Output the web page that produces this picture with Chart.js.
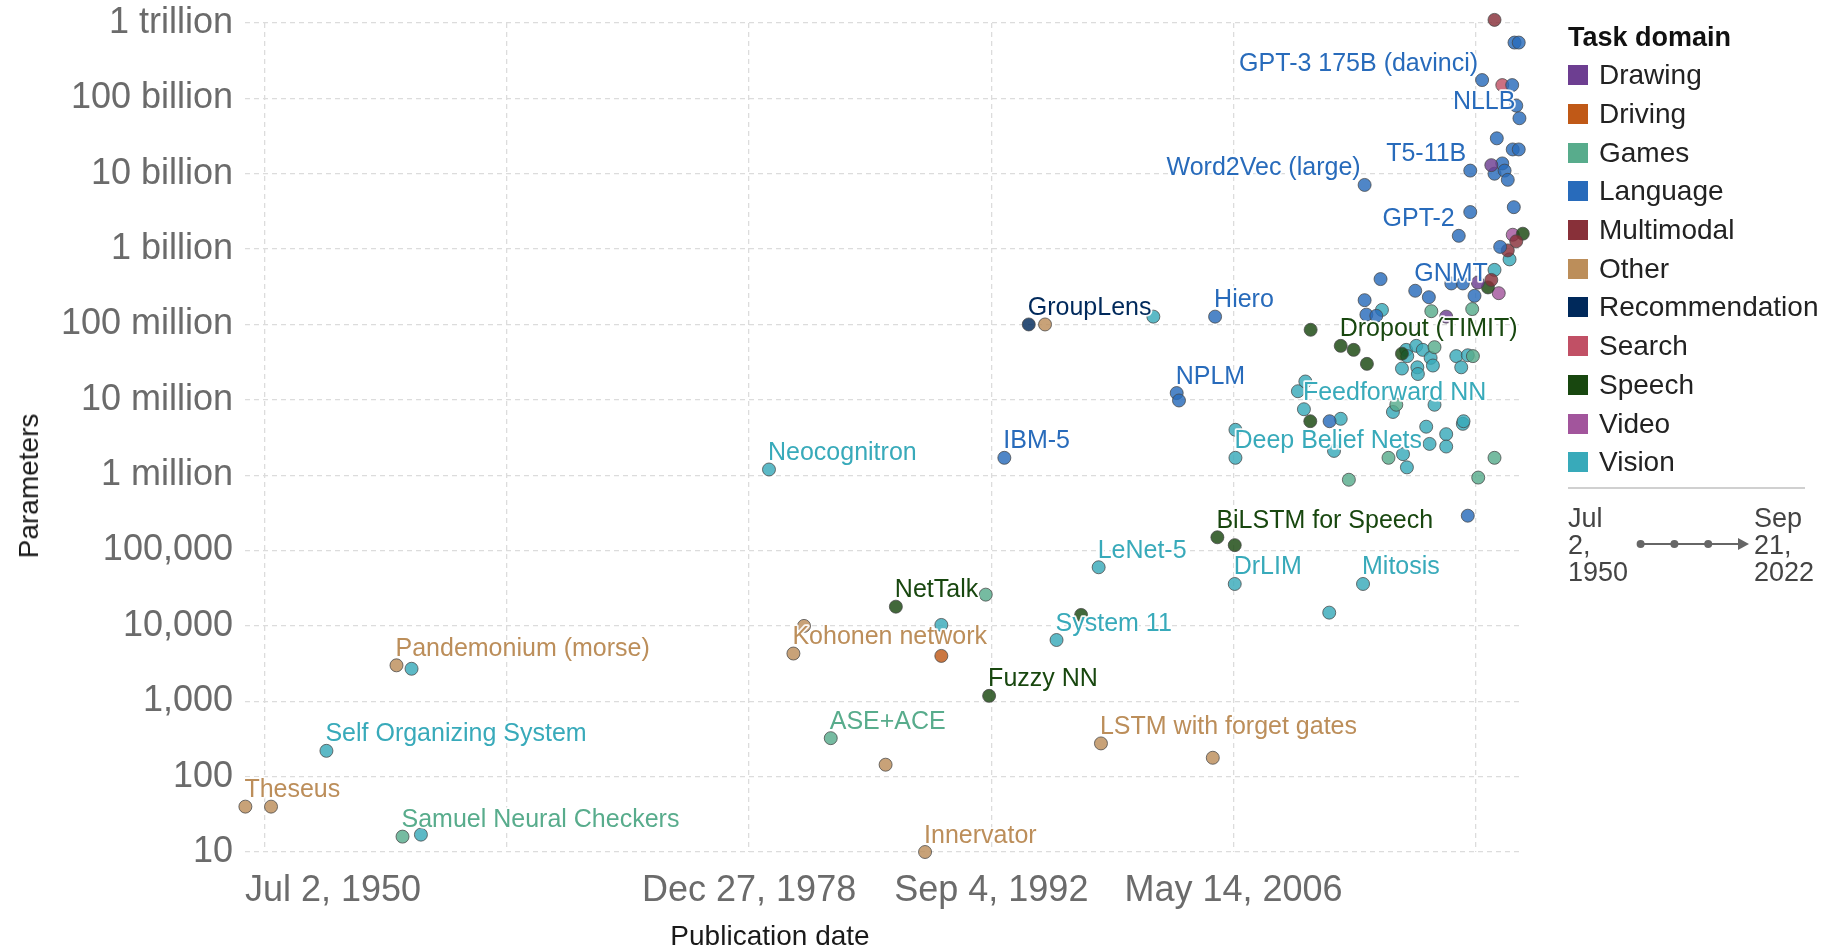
<!DOCTYPE html>
<html>
<head>
<meta charset="utf-8">
<title>Parameters in notable AI systems</title>
<script src="https://cdn.jsdelivr.net/npm/chart.js@4.4.1/dist/chart.umd.min.js"></script>
<style>
  html, body { margin: 0; padding: 0; background: #fff; }
  body { width: 1827px; height: 948px; position: relative; overflow: hidden;
         font-family: 'Liberation Sans', Arial, Helvetica, sans-serif; }
  #c { position: absolute; left: 0; top: 0; }
  .axis-title { position: absolute; font-size: 28px; color: #1a1a1a; white-space: nowrap; }
  #ytitle { left: 29px; top: 486px; transform: translate(-50%, -50%) rotate(-90deg); }
  #xtitle { left: 770px; top: 936px; transform: translate(-50%, -50%); }
  #legend { position: absolute; left: 1568px; top: 18px; }
  #legend .title { font-weight: bold; font-size: 27px; color: #111; height: 38px; line-height: 38px; }
  #legend .item { height: 38.7px; display: flex; align-items: center; font-size: 28px; color: #222; }
  #legend .sw { width: 20px; height: 20px; margin-right: 11px; flex: none; }
  #sep { position: absolute; left: 1568px; top: 487px; width: 237px; height: 2px; background: #d0d0d0; }
  .tl { position: absolute; top: 505px; font-size: 27px; line-height: 26.8px; color: #444; }
  #tl-start { left: 1568px; }
  #tl-end { left: 1754px; }
  #tl-arrow { position: absolute; left: 1630px; top: 530px; }
</style>
</head>
<body>
<canvas id="c" width="1827" height="948"></canvas>
<div id="ytitle" class="axis-title">Parameters</div>
<div id="xtitle" class="axis-title">Publication date</div>
<div id="legend"><div class="title">Task domain</div></div>
<div id="sep"></div>
<div id="tl-start" class="tl">Jul<br>2,<br>1950</div>
<div id="tl-end" class="tl">Sep<br>21,<br>2022</div>
<svg id="tl-arrow" width="130" height="30" viewBox="0 0 130 30">
  <line x1="10" y1="14" x2="112" y2="14" stroke="#666" stroke-width="2"/>
  <circle cx="10.6" cy="14" r="4" fill="#666"/>
  <circle cx="44.4" cy="14" r="4" fill="#666"/>
  <circle cx="78.2" cy="14" r="4" fill="#666"/>
  <polygon points="108,8 119,14 108,20" fill="#666"/>
</svg>

<script>
// Task domains and their colours
const domains = ['Drawing', 'Driving', 'Games', 'Language', 'Multimodal', 'Other',
                 'Recommendation', 'Search', 'Speech', 'Video', 'Vision'];
const domainColors = ['#6D3E91', '#C05917', '#58AC8C', '#286BBB', '#883039', '#BC8E5A',
                      '#00295B', '#C15065', '#18470F', '#A2559C', '#38AABA'];

// Systems per domain: [publication year (decimal), parameters, name shown on chart]
const drawing = [
  [2018.38, 1.27e8], [2020.17, 3.6e8], [2020.93, 1.3e10]
];
const driving = [
  [1989.85, 4000]
];
const games = [
  [1959.40, 16, 'Samuel Neural Checkers'],
  [1983.60, 324, 'ASE+ACE'],
  [1992.36, 2.6e4], [2012.88, 8.7e5], [2015.12, 1.7e6], [2015.56, 8.6e6],
  [2017.54, 1.5e8], [2017.72, 5.0e7], [2019.85, 1.6e8], [2019.89, 3.8e7],
  [2020.19, 9.3e5], [2021.11, 1.7e6]
];
const language = [
  [1993.41, 1.7e6, 'IBM-5'],
  [2003.15, 1.23e7, 'NPLM'],
  [2003.28, 9.8e6],
  [2005.32, 1.27e8, 'Hiero'],
  [2011.79, 5.2e6],
  [2013.77, 7.1e9, 'Word2Vec (large)'],
  [2013.77, 2.1e8], [2013.87, 1.35e8], [2014.43, 1.3e8], [2014.67, 4.0e8],
  [2016.63, 2.8e8, 'GNMT'],
  [2017.40, 2.3e8], [2018.67, 3.5e8],
  [2019.09, 1.5e9, 'GPT-2'],
  [2019.32, 3.5e8], [2019.60, 2.9e5], [2019.74, 3.1e9],
  [2019.74, 1.1e10, 'T5-11B'],
  [2019.98, 2.4e8],
  [2020.41, 1.75e11, 'GPT-3 175B (davinci)'],
  [2021.11, 1.0e10], [2021.24, 2.95e10], [2021.43, 1.07e9], [2021.55, 1.37e10],
  [2021.68, 1.1e10], [2021.86, 8.3e9], [2022.11, 1.5e11], [2022.14, 2.1e10],
  [2022.20, 3.6e9], [2022.24, 5.5e11], [2022.34, 8.0e10], [2022.48, 2.1e10],
  [2022.48, 5.5e11],
  [2022.52, 5.45e10, 'NLLB']
];
const multimodal = [
  [2020.93, 3.9e8], [2021.11, 1.1e12], [2021.86, 9.6e8], [2022.34, 1.27e9]
];
const other = [
  [1950.52, 40, 'Theseus'],
  [1951.97, 40],
  [1959.06, 3000, 'Pandemonium (morse)'],
  [1981.49, 4300, 'Kohonen network'],
  [1982.09, 10000],
  [1986.70, 144],
  [1988.93, 10, 'Innervator'],
  [1995.71, 1.0e8],
  [1998.87, 276, 'LSTM with forget gates'],
  [2005.19, 178]
];
const recommendation = [
  [1994.79, 1.0e8, 'GroupLens']
];
const search = [
  [2021.55, 1.5e11]
];
const speech = [
  [1987.28, 1.8e4, 'NetTalk'],
  [1992.55, 1180, 'Fuzzy NN'],
  [1997.75, 1.4e4],
  [2005.45, 1.5e5, 'BiLSTM for Speech'],
  [2006.43, 1.18e5], [2010.70, 5.2e6], [2010.72, 8.5e7],
  [2012.42, 5.2e7, 'Dropout (TIMIT)'],
  [2013.15, 4.6e7], [2013.90, 3.0e7], [2015.88, 4.1e7], [2020.74, 3.1e8],
  [2022.71, 1.6e9]
];
const video = [
  [2021.35, 2.6e8], [2022.14, 1.55e9]
];
const vision = [
  [1955.10, 220, 'Self Organizing System'],
  [1959.91, 2700], [1960.44, 17],
  [1980.11, 1.19e6, 'Neocognitron'],
  [1989.85, 1.03e4],
  [1996.36, 6500, 'System 11'],
  [1998.74, 6.0e4, 'LeNet-5'],
  [2001.83, 1.27e8],
  [2006.43, 3.6e4, 'DrLIM'],
  [2006.47, 1.7e6, 'Deep Belief Nets'],
  [2006.47, 4.0e6], [2010.00, 1.3e7],
  [2010.34, 7.5e6, 'Feedforward NN'],
  [2010.42, 1.75e7], [2011.77, 1.5e4], [2012.04, 2.1e6], [2012.42, 5.6e6],
  [2013.68, 3.6e4, 'Mitosis'],
  [2014.75, 1.56e8], [2015.37, 6.9e6], [2015.88, 2.6e7], [2015.94, 1.9e6],
  [2016.12, 4.6e7], [2016.16, 1.27e6], [2016.18, 3.8e7], [2016.69, 5.2e7],
  [2016.75, 2.7e7], [2016.78, 2.2e7], [2017.06, 4.6e7], [2017.25, 4.4e6],
  [2017.44, 2.6e6], [2017.50, 3.6e7], [2017.63, 2.85e7], [2017.72, 8.6e6],
  [2018.38, 3.5e6], [2018.38, 2.4e6], [2018.95, 3.8e7], [2019.23, 2.7e7],
  [2019.32, 4.8e6], [2019.36, 5.2e6], [2019.60, 3.9e7], [2021.11, 5.3e8],
  [2021.96, 7.3e8]
];
const seriesByDomain = [drawing, driving, games, language, multimodal, other,
                        recommendation, search, speech, video, vision];

// Axis ticks
const xRange = ['1950-07-02', '2022-09-21'];
const xTickDates = ['1950-07-02', '1951-08-11', '1965-04-19', '1978-12-27',
                    '1992-09-04', '2006-05-14', '2020-01-21'];
const xTickLabels = ['Jul 2, 1950', '', '', 'Dec 27, 1978', 'Sep 4, 1992', 'May 14, 2006', ''];
const yTickValues = [10, 100, 1e3, 1e4, 1e5, 1e6, 1e7, 1e8, 1e9, 1e10, 1e11, 1e12];
const yTickLabels = ['10', '100', '1,000', '10,000', '100,000', '1 million', '10 million',
                     '100 million', '1 billion', '10 billion', '100 billion', '1 trillion'];

// Names written to the left of their point instead of the right
const namesLeftOfPoint = new Set(['GPT-3 175B (davinci)', 'NLLB', 'Word2Vec (large)', 'T5-11B', 'GPT-2']);

function decimalYear(iso) {
  const [y, m, d] = iso.split('-').map(Number);
  const t = Date.UTC(y, m - 1, d), a = Date.UTC(y, 0, 1), b = Date.UTC(y + 1, 0, 1);
  return y + (t - a) / (b - a);
}
function withAlpha(hex, a) {
  const n = parseInt(hex.slice(1), 16);
  return `rgba(${n >> 16}, ${(n >> 8) & 255}, ${n & 255}, ${a})`;
}

// Legend
const legendEl = document.getElementById('legend');
domains.forEach((name, i) => {
  const row = document.createElement('div');
  row.className = 'item';
  row.innerHTML = `<span class="sw" style="background:${domainColors[i]}"></span>${name}`;
  legendEl.appendChild(row);
});

const FONT = "'Liberation Sans', Arial, Helvetica, sans-serif";
Chart.defaults.font.family = FONT;

const datasets = domains.map((name, i) => ({
  label: name,
  data: seriesByDomain[i].map(r => ({ x: r[0], y: r[1], name: r[2] || null })),
  backgroundColor: withAlpha(domainColors[i], 0.82),
  borderColor: 'rgba(70, 70, 70, 0.75)',
  borderWidth: 1,
  pointRadius: 6.5,
  pointHoverRadius: 6.5,
  labelColor: domainColors[i],
  clip: false
}));

const pointNames = {
  id: 'pointNames',
  afterDatasetsDraw(chart) {
    const ctx = chart.ctx;
    ctx.save();
    ctx.font = `25px ${FONT}`;
    ctx.textBaseline = 'alphabetic';
    ctx.lineJoin = 'round';
    chart.data.datasets.forEach((ds, di) => {
      const meta = chart.getDatasetMeta(di);
      ds.data.forEach((p, i) => {
        if (!p.name) return;
        const el = meta.data[i];
        const toLeft = namesLeftOfPoint.has(p.name);
        const x = toLeft ? el.x - 4 : el.x - 1;
        const y = el.y - 9.5;
        ctx.textAlign = toLeft ? 'right' : 'left';
        ctx.strokeStyle = 'rgba(255,255,255,0.92)';
        ctx.lineWidth = 3.5;
        ctx.strokeText(p.name, x, y);
        ctx.fillStyle = ds.labelColor;
        ctx.fillText(p.name, x, y);
      });
    });
    ctx.restore();
  }
};

new Chart(document.getElementById('c'), {
  type: 'scatter',
  data: { datasets },
  options: {
    responsive: false,
    animation: false,
    events: [],
    devicePixelRatio: 1,
    layout: { padding: { top: 23, right: 304, bottom: 0, left: 0 } },
    plugins: { legend: { display: false }, tooltip: { enabled: false } },
    scales: {
      x: {
        type: 'linear',
        min: decimalYear(xRange[0]),
        max: decimalYear(xRange[1]),
        afterBuildTicks: s => { s.ticks = xTickDates.map(d => ({ value: decimalYear(d) })); },
        afterFit: s => { s.height = 96; s.paddingLeft = 0; s.paddingRight = 0; },
        grid: {
          color: c => (c.index === 0 ? 'rgba(0,0,0,0)' : '#dcdcdc'),
          lineWidth: 1.3,
          drawTicks: false
        },
        border: { display: false, dash: [5, 4] },
        ticks: {
          autoSkip: false,
          maxRotation: 0,
          align: 'inner',
          padding: 17,
          color: '#6b6b6b',
          font: { size: 36 },
          callback: (v, i) => xTickLabels[i]
        }
      },
      y: {
        type: 'logarithmic',
        min: yTickValues[0],
        max: yTickValues[yTickValues.length - 1],
        afterBuildTicks: s => { s.ticks = yTickValues.map(v => ({ value: v })); },
        afterFit: s => { s.width = 245; s.paddingTop = 0; s.paddingBottom = 0; },
        grid: { color: '#dcdcdc', lineWidth: 1.3, drawTicks: false },
        border: { display: false, dash: [5, 4] },
        ticks: {
          padding: 12,
          color: '#6b6b6b',
          font: { size: 36 },
          callback: (v, i) => yTickLabels[yTickValues.indexOf(v)]
        }
      }
    }
  },
  plugins: [pointNames]
});
</script>
</body>
</html>
